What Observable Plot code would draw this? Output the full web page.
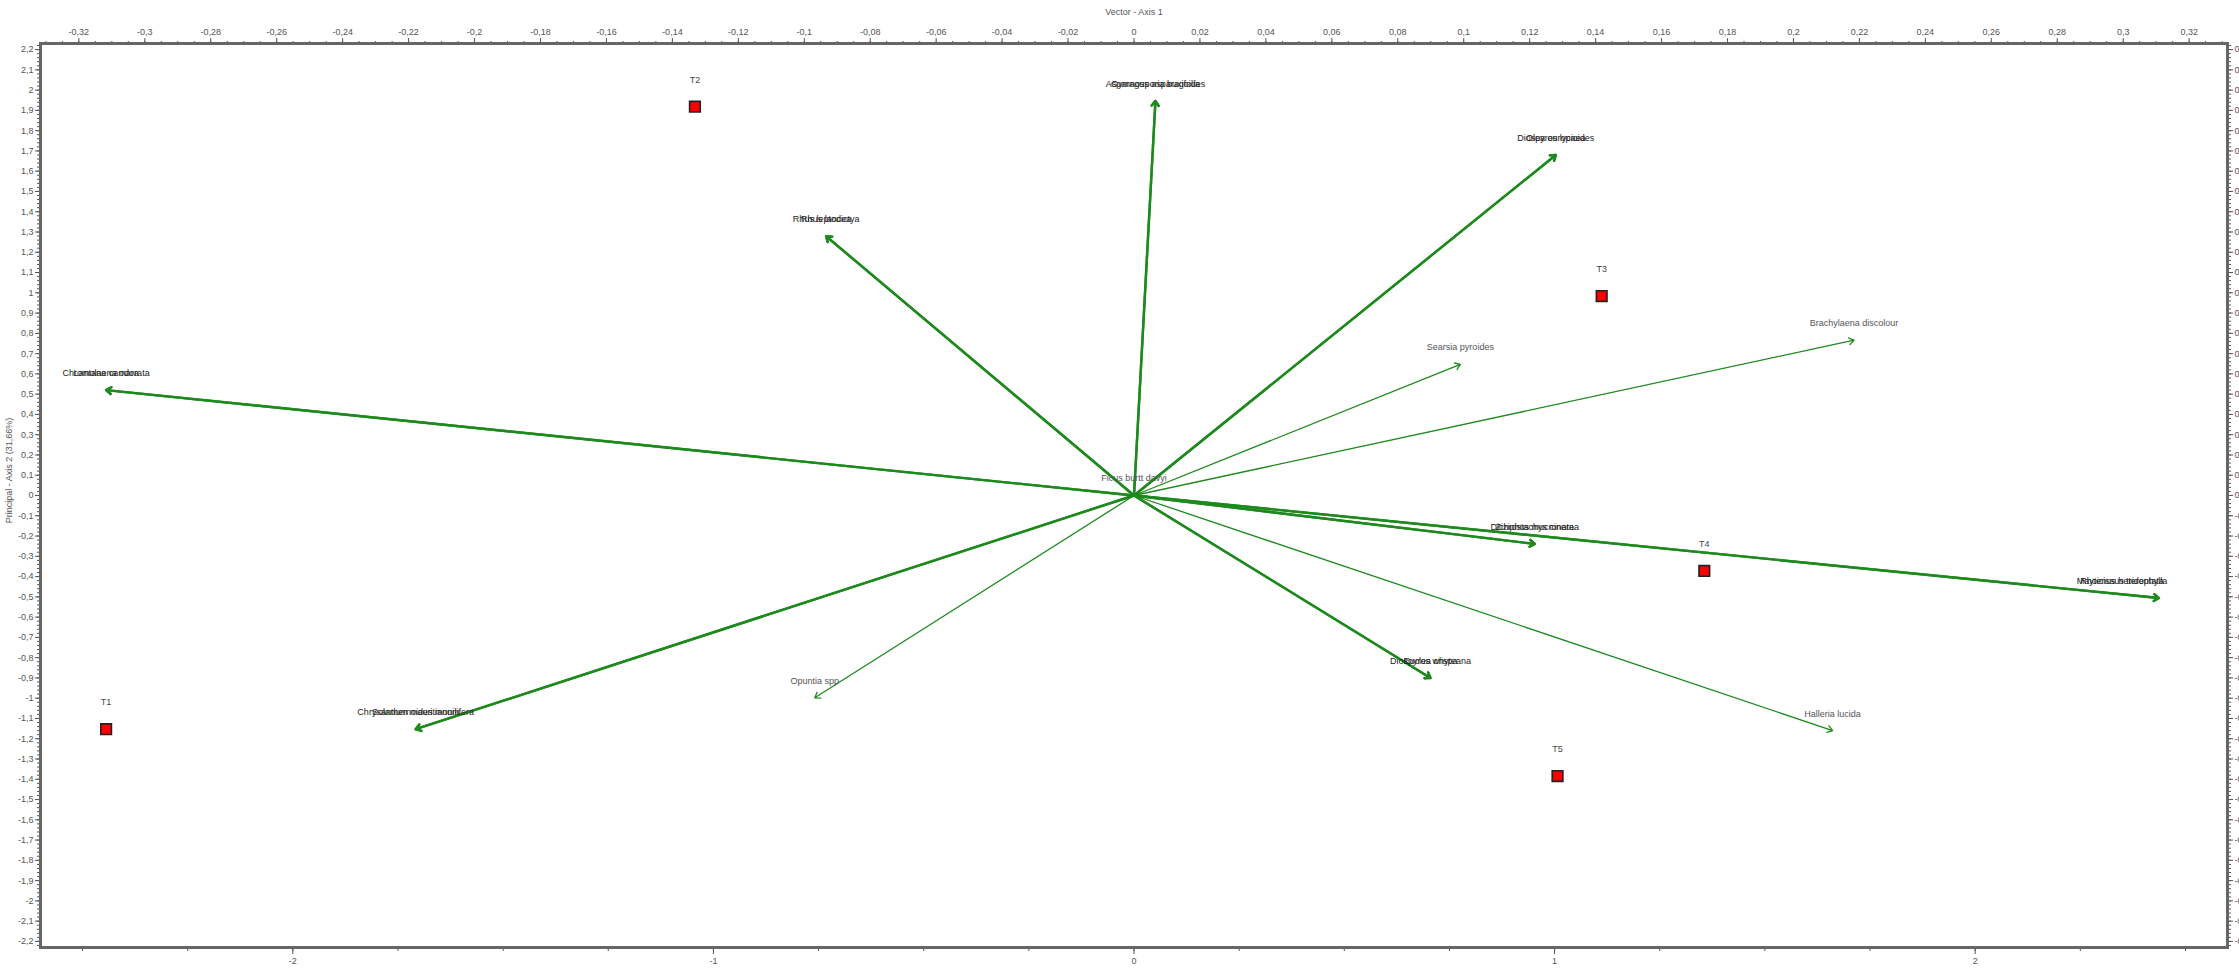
<!DOCTYPE html>
<html><head><meta charset="utf-8">
<script src="https://cdn.jsdelivr.net/npm/d3@7"></script>
<script src="https://cdn.jsdelivr.net/npm/@observablehq/plot@0.6"></script>
<style>html,body{margin:0;padding:0;background:#fff;overflow:hidden}#chart svg{display:block}</style>
</head><body><div id="chart"></div>
<script>
// Sites (principal coordinates, axis 1 / axis 2)
const siteNames = ["T1", "T2", "T3", "T4", "T5"];
const siteX = [-2.444, -1.044, 1.112, 1.356, 1.007];
const siteY = [-1.153, 1.918, 0.984, -0.372, -1.384];

// Species vectors (tips in principal-axis units)
const speciesNames = [
  "Asparagus asparagoides", "Gymnosporia buxifolia",
  "Diospyros lycioides", "Olea europaea",
  "Rhus leptodictya", "Rhus lancea",
  "Chromolaena odorata", "Lantana camara",
  "Searsia pyroides",
  "Brachylaena discolour",
  "Ficus burtt davyi",
  "Dichrostachys cinerea", "Ziziphus mucronata",
  "Rhoicissus tridentata", "Maytenus heterophylla",
  "Diospyros whyteana", "Euclea crispa",
  "Halleria lucida",
  "Opuntia spp",
  "Chrysanthemoides monilifera", "Solanum mauritianum"
];
const speciesX = [0.051, 0.051, 1.003, 1.003, -0.732, -0.732, -2.444, -2.444, 0.776, 1.712, 0.0, 0.953, 0.953, 2.437, 2.437, 0.705, 0.705, 1.661, -0.759, -1.708, -1.708];
const speciesY = [1.947, 1.947, 1.680, 1.680, 1.279, 1.279, 0.520, 0.520, 0.647, 0.766, 0.0, -0.239, -0.239, -0.506, -0.506, -0.900, -0.900, -1.160, -0.998, -1.153, -1.153];

// Axis tick labels
const xMajorTicks = [-2, -1, 0, 1, 2];
const vectorTicks = d3.range(-16, 17).map(i => i * 0.02);
const yMajorTicks = d3.range(-22, 23).map(i => i / 10);

const K = 7.84; // principal units per vector unit on axis 1
const fmt = v => String(Math.round(v * 100) / 100 + 0).replace(".", ",");

const sites = siteNames.map((n, i) => ({name: n, x: siteX[i], y: siteY[i]}));
const species = speciesNames.map((n, i) => ({name: n, x: speciesX[i], y: speciesY[i]}));
const count = d3.rollup(species, v => v.length, d => d.x + "|" + d.y);
species.forEach(d => d.n = count.get(d.x + "|" + d.y));
const nearEdge = d => d.x > 2.3;

const xMinor = d3.range(-10, 11).map(i => i * 0.25);
const topMinor = d3.range(-66, 67).map(i => i * 0.005 * K);
const yMinor = d3.range(-111, 112).map(i => i / 50);

const green = "#1e8a1e";
const axisCol = "#555";

const chart = Plot.plot({
  width: 2239, height: 974,
  marginLeft: 40, marginRight: 12, marginTop: 43, marginBottom: 27,
  x: {domain: [-2.6, 2.6]},
  y: {domain: [-2.23, 2.23]},
  style: {fontFamily: "'Liberation Sans', Arial, sans-serif", fontSize: "9px", background: "#fff", overflow: "visible"},
  marks: [
    // minor ticks
    Plot.axisX(xMinor, {anchor: "bottom", tickSize: 4, text: null, stroke: axisCol, label: null}),
    Plot.axisX(topMinor, {anchor: "top", tickSize: 3, text: null, stroke: axisCol, label: null}),
    Plot.axisY(yMinor, {anchor: "left", tickSize: 3, text: null, stroke: axisCol, label: null}),
    Plot.axisY(yMinor, {anchor: "right", tickSize: 3, text: null, stroke: axisCol, label: null}),
    // major ticks
    Plot.axisX(xMajorTicks, {anchor: "bottom", tickSize: 7, tickPadding: 3, tickFormat: fmt, color: axisCol, label: null, fontSize: 9}),
    Plot.axisX(vectorTicks.map(v => v * K), {anchor: "top", tickSize: 6, tickPadding: 3, tickFormat: d => fmt(d / K), color: axisCol, label: null, fontSize: 9}),
    Plot.axisY(yMajorTicks, {anchor: "left", tickSize: 5, tickPadding: 2, tickFormat: fmt, color: axisCol, label: null, fontSize: 9}),
    Plot.axisY(yMajorTicks, {anchor: "right", tickSize: 5, tickPadding: 2, tickFormat: d => fmt(d / 5), color: axisCol, label: null, fontSize: 9}),
    Plot.frame({stroke: "#666", strokeWidth: 3}),
    // titles
    Plot.text(["Vector - Axis 1"], {frameAnchor: "top", dy: -35, fontSize: 9, fill: "#555"}),
    Plot.text(["Principal - Axis 2 (31,66%)"], {frameAnchor: "left", textAnchor: "middle", rotate: -90, dx: -31, dy: -25, fontSize: 9, fill: "#555"}),
    // species vectors
    Plot.arrow(species, {x1: () => 0, y1: () => 0, x2: "x", y2: "y", stroke: green, strokeWidth: d => d.n > 1 ? 2.4 : 1.3, headLength: 9, headAngle: 70}),
    Plot.text(species.filter(d => !nearEdge(d)), {x: "x", y: "y", text: "name", dy: -17, fontSize: 9, fill: d => d.n > 1 ? "#222" : "#555"}),
    Plot.text(species.filter(nearEdge), {x: "x", y: "y", text: "name", dy: -17, dx: -37, fontSize: 9, fill: d => d.n > 1 ? "#222" : "#555"}),
    // sites
    Plot.dot(sites, {x: "x", y: "y", symbol: "square", r: 6, fill: "#ff0000", stroke: "#222", strokeWidth: 1.6}),
    Plot.text(sites, {x: "x", y: "y", text: "name", dy: -27, fontSize: 9, fill: "#444"})
  ]
});
document.getElementById("chart").append(chart);
</script>
</body></html>
